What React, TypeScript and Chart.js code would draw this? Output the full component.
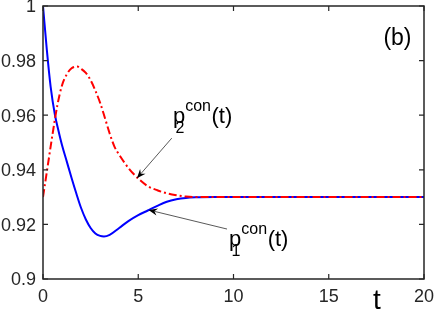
import React, { useEffect, useRef } from 'react';
import { Chart, registerables } from 'chart.js';

Chart.register(...registerables);

// ---- data ----
const timeP1 = [0, 0.2, 0.4, 0.63, 0.8, 1.0, 1.25, 1.5, 1.75, 2.0, 2.25, 2.5, 2.75, 3.0, 3.2, 3.5, 4.0, 4.5, 5.0, 5.5, 6.0, 6.5, 7.0, 7.5, 8.0, 9, 10, 12, 15, 20];
const p1Values = [1.0, 0.984, 0.9705, 0.96, 0.9547, 0.949, 0.943, 0.937, 0.9313, 0.926, 0.9218, 0.9187, 0.9167, 0.9158, 0.9156, 0.9162, 0.9187, 0.9213, 0.9234, 0.9251, 0.9268, 0.9283, 0.9292, 0.9297, 0.9299, 0.93, 0.93, 0.93, 0.93, 0.93];

const timeP2 = [0, 0.25, 0.5, 0.75, 1.0, 1.25, 1.5, 1.8, 2.0, 2.25, 2.5, 2.75, 3.0, 3.25, 3.5, 3.75, 4.0, 4.5, 5.0, 5.5, 6.0, 6.5, 7.0, 7.5, 8.0, 9, 10, 12, 15, 20];
const p2Values = [0.93, 0.9415, 0.953, 0.9635, 0.971, 0.975, 0.9772, 0.9778, 0.977, 0.9755, 0.9728, 0.969, 0.9645, 0.959, 0.9533, 0.9485, 0.9455, 0.9405, 0.9368, 0.934, 0.9325, 0.9314, 0.9307, 0.9302, 0.93, 0.93, 0.93, 0.93, 0.93, 0.93];

const xTicks = [0, 5, 10, 15, 20];
const xTickLabels = ['0', '5', '10', '15', '20'];
const yTicks = [0.9, 0.92, 0.94, 0.96, 0.98, 1];
const yTickLabels = ['0.9', '0.92', '0.94', '0.96', '0.98', '1'];

// annotation anchors in data coordinates
const p2Arrow = { from: [6.76, 0.9516], to: [4.93, 0.9369] };
const p1Arrow = { from: [9.66, 0.9183], to: [5.54, 0.9253] };
const p2Label = [6.82, 0.9571];
const p1Label = [9.77, 0.912];
const panelLabel = [17.87, 0.9857];
const xTitleT = 17.53;

const FONT = '"Liberation Sans", Arial, Helvetica, sans-serif';
const AXIS_COLOR = '#262626';

function drawArrow(ctx: CanvasRenderingContext2D, sx: number, sy: number, tx: number, ty: number) {
  const dx = tx - sx, dy = ty - sy;
  const len = Math.hypot(dx, dy);
  const ux = dx / len, uy = dy / len;
  const nx = -uy, ny = ux;
  const L = 9, W = 3.6, notch = 3;
  ctx.save();
  ctx.strokeStyle = '#222';
  ctx.lineWidth = 0.75;
  ctx.beginPath();
  ctx.moveTo(sx, sy);
  ctx.lineTo(tx - (L - notch) * ux, ty - (L - notch) * uy);
  ctx.stroke();
  ctx.fillStyle = '#000';
  ctx.beginPath();
  ctx.moveTo(tx, ty);
  ctx.lineTo(tx - L * ux + W * nx, ty - L * uy + W * ny);
  ctx.lineTo(tx - (L - notch) * ux, ty - (L - notch) * uy);
  ctx.lineTo(tx - L * ux - W * nx, ty - L * uy - W * ny);
  ctx.closePath();
  ctx.fill();
  ctx.restore();
}

function drawPLabel(ctx: CanvasRenderingContext2D, x: number, base: number, sub: string) {
  ctx.save();
  ctx.fillStyle = '#000';
  ctx.textBaseline = 'alphabetic';
  ctx.textAlign = 'left';
  ctx.font = `22px ${FONT}`;
  ctx.fillText('p', x, base);
  const pw = ctx.measureText('p').width;
  ctx.font = `16px ${FONT}`;
  ctx.fillText('con', x + pw, base - 12.3);
  const cw = ctx.measureText('con').width;
  ctx.fillText(sub, x + 2.5, base + 9.5);
  ctx.font = `22px ${FONT}`;
  ctx.fillText('(t)', x + pw + cw + 0.5, base);
  ctx.restore();
}

const boxPlugin = {
  id: 'boxTicks',
  afterDatasetsDraw(chart: any) {
    const { ctx, chartArea: a, scales } = chart;
    const xs = scales.x, ys = scales.y;
    const tl = 5;
    ctx.save();
    ctx.strokeStyle = AXIS_COLOR;
    ctx.lineWidth = 1.5;
    ctx.beginPath();
    ctx.rect(a.left, a.top, a.right - a.left, a.bottom - a.top);
    ctx.stroke();
    ctx.lineWidth = 1.2;
    ctx.beginPath();
    xTicks.forEach((v) => {
      const px = xs.getPixelForValue(v);
      ctx.moveTo(px, a.bottom);
      ctx.lineTo(px, a.bottom - tl);
      ctx.moveTo(px, a.top);
      ctx.lineTo(px, a.top + tl);
    });
    yTicks.forEach((v) => {
      const py = ys.getPixelForValue(v);
      ctx.moveTo(a.left, py);
      ctx.lineTo(a.left + tl, py);
      ctx.moveTo(a.right, py);
      ctx.lineTo(a.right - tl, py);
    });
    ctx.stroke();
    ctx.restore();
  },
  afterDraw(chart: any) {
    const { ctx, chartArea: a, scales } = chart;
    const xs = scales.x, ys = scales.y;
    const P = (p: number[]) => [xs.getPixelForValue(p[0]), ys.getPixelForValue(p[1])];
    const a2f = P(p2Arrow.from), a2t = P(p2Arrow.to);
    const a1f = P(p1Arrow.from), a1t = P(p1Arrow.to);
    drawArrow(ctx, a2f[0], a2f[1], a2t[0], a2t[1]);
    drawArrow(ctx, a1f[0], a1f[1], a1t[0], a1t[1]);
    const l2 = P(p2Label), l1 = P(p1Label);
    drawPLabel(ctx, l2[0], l2[1], '2');
    drawPLabel(ctx, l1[0], l1[1], '1');
    const pb = P(panelLabel);
    ctx.save();
    ctx.fillStyle = '#000';
    ctx.font = `23px ${FONT}`;
    ctx.textAlign = 'left';
    ctx.textBaseline = 'alphabetic';
    ctx.fillText('(b)', pb[0], pb[1]);
    ctx.font = `28px ${FONT}`;
    ctx.textAlign = 'center';
    ctx.fillText('t', xs.getPixelForValue(xTitleT), a.bottom + 29.5);
    ctx.restore();
  },
};

export default function App() {
  const canvasRef = useRef<HTMLCanvasElement | null>(null);

  useEffect(() => {
    const canvas = canvasRef.current;
    if (!canvas) return;
    const chart = new Chart(canvas, {
      type: 'line',
      data: {
        datasets: [
          {
            label: 'p2',
            data: timeP2.map((t, i) => ({ x: t, y: p2Values[i] })),
            borderColor: '#ff0000',
            borderWidth: 2,
            borderDash: [8, 3, 2, 3],
            pointRadius: 0,
            fill: false,
            cubicInterpolationMode: 'monotone',
            order: 0,
          },
          {
            label: 'p1',
            data: timeP1.map((t, i) => ({ x: t, y: p1Values[i] })),
            borderColor: '#0000ff',
            borderWidth: 2,
            pointRadius: 0,
            fill: false,
            cubicInterpolationMode: 'monotone',
            order: 1,
          },
        ],
      },
      options: {
        animation: false,
        responsive: false,
        maintainAspectRatio: false,
        devicePixelRatio: 1,
        layout: { autoPadding: false, padding: { top: 6, right: 12, left: 0, bottom: 0 } },
        plugins: { legend: { display: false }, tooltip: { enabled: false } },
        scales: {
          x: {
            type: 'linear',
            min: 0,
            max: 20,
            afterBuildTicks: (s: any) => { s.ticks = xTicks.map((v) => ({ value: v })); },
            afterFit: (s: any) => { s.height = 31; s.paddingLeft = 0; s.paddingRight = 0; },
            ticks: {
              color: AXIS_COLOR,
              font: { family: FONT, size: 18 },
              padding: 7,
              maxRotation: 0,
              autoSkip: false,
              callback: (_v: any, i: number) => xTickLabels[i],
            },
            grid: { display: false, drawTicks: false },
            border: { display: false },
          },
          y: {
            type: 'linear',
            min: 0.9,
            max: 1,
            afterBuildTicks: (s: any) => { s.ticks = yTicks.map((v) => ({ value: v })); },
            afterFit: (s: any) => { s.width = 43; s.paddingTop = 0; s.paddingBottom = 0; },
            ticks: {
              color: AXIS_COLOR,
              font: { family: FONT, size: 18 },
              padding: 7,
              labelOffset: 1.5,
              autoSkip: false,
              callback: (_v: any, i: number) => yTickLabels[i],
            },
            grid: { display: false, drawTicks: false },
            border: { display: false },
          },
        },
      },
      plugins: [boxPlugin],
    } as any);
    return () => chart.destroy();
  }, []);

  return (
    <div style={{ position: 'fixed', left: 0, top: 0, width: 436, height: 310, background: '#fff' }}>
      <canvas ref={canvasRef} width={436} height={310} style={{ display: 'block', width: 436, height: 310 }} />
    </div>
  );
}
